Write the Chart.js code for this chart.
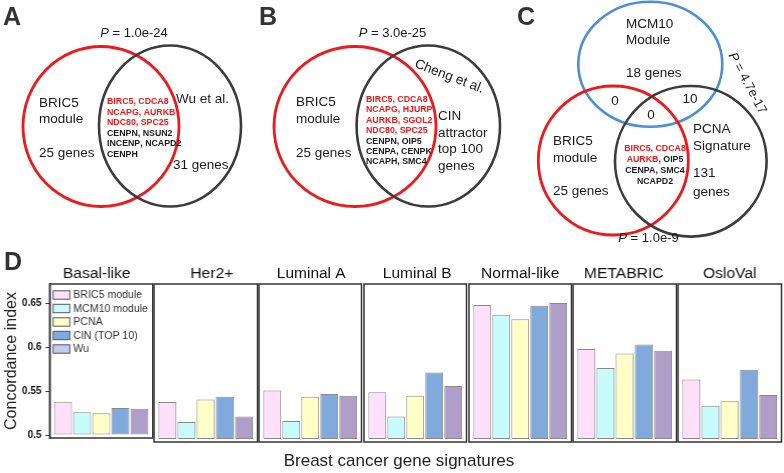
<!DOCTYPE html>
<html>
<head>
<meta charset="utf-8">
<script src="https://cdn.jsdelivr.net/npm/chart.js@4.4.1/dist/chart.umd.min.js"></script>
<style>
  html, body { margin: 0; padding: 0; background: #fff; }
  #page { position: relative; width: 784px; height: 473px; overflow: hidden; }
  .cell { position: absolute; }
</style>
</head>
<body>
<div id="page"></div>
<script>
// ---- data ----
const subtypes = ['Basal-like', 'Her2+', 'Luminal A', 'Luminal B', 'Normal-like', 'METABRIC', 'OsloVal'];
const signatures = ['BRIC5 module', 'MCM10 module', 'PCNA', 'CIN (TOP 10)', 'Wu'];
const bric5 = [0.538, 0.541, 0.554, 0.552, 0.649, 0.600, 0.566];
const mcm10 = [0.526, 0.519, 0.520, 0.525, 0.638, 0.579, 0.537];
const pcna  = [0.525, 0.544, 0.547, 0.548, 0.633, 0.595, 0.542];
const cin   = [0.531, 0.547, 0.550, 0.574, 0.648, 0.605, 0.577];
const wu    = [0.530, 0.525, 0.548, 0.559, 0.651, 0.598, 0.549];
const yTicks = [0.5, 0.55, 0.6, 0.65];
const yTickLabels = ['0.5', '0.55', '0.6', '0.65'];

// venn diagrams
const vennPValues = ['1.0e-24', '3.0e-25', '1.0e-9', '4.7e-17'];
const geneCounts = [25, 31, 100, 18, 131]; // BRIC5, Wu, CIN, MCM10, PCNA
const overlapsC = [0, 10, 0];               // BRIC5&MCM10, MCM10&PCNA, all three
const sharedA = ['BIRC5, CDCA8', 'NCAPG, AURKB', 'NDC80, SPC25', 'CENPN, NSUN2', 'INCENP, NCAPD2', 'CENPH'];
const sharedB = ['BIRC5, CDCA8', 'NCAPG, HJURP', 'AURKB, SGOL2', 'NDC80, SPC25', 'CENPN, OIP5', 'CENPA, CENPK', 'NCAPH, SMC4'];
const sharedC = ['BIRC5, CDCA8', 'AURKB, OIP5', 'CENPA, SMC4', 'NCAPD2'];
const redGenes = ['BIRC5', 'CDCA8', 'NCAPG', 'AURKB', 'NDC80', 'SPC25', 'HJURP', 'SGOL2'];

const barColors = ['#ffe0fa', '#c8fcfc', '#ffffc8', '#80aadb', '#ae9ec8'];
const legendColors = ['#ffe0fa', '#c8fcfc', '#ffffc8', '#80aadb', '#c8c8f4'];
const series = [bric5, mcm10, pcna, cin, wu];

const FAM = '"Liberation Sans", Arial, sans-serif';
const RED = '#f01818';
const INK = '#1a1a1a';
const page = document.getElementById('page');

function fnt(size, bold, italic) {
  return (italic ? 'italic ' : '') + (bold ? 'bold ' : '') + size + 'px ' + FAM;
}
function plain(t, size, color, bold) {
  return [{ t: t, font: fnt(size || 13.5, bold), color: color || INK }];
}
function pLabel(v) {
  return [{ t: 'P', font: fnt(13, false, true), color: INK }, { t: ' = ' + v, font: fnt(13), color: INK }];
}
function geneLine(line) {
  return line.split(', ').map((g, k) => ({
    t: (k ? ', ' : '') + g, font: fnt(8.8, true), color: redGenes.includes(g) ? RED : INK
  }));
}

// ---- overlay: venn circles and free labels ----
const ellipses = [
  { cx: 101, cy: 126.5, rx: 78, ry: 80, color: RED, w: 2.8 },
  { cx: 170, cy: 126, rx: 71, ry: 80.5, color: '#3c3c3c', w: 2.6 },
  { cx: 355, cy: 126.5, rx: 81, ry: 80, color: RED, w: 2.8 },
  { cx: 428.3, cy: 126, rx: 71.7, ry: 80.5, color: '#3c3c3c', w: 2.6 },
  { cx: 650.3, cy: 64.2, rx: 72, ry: 62.5, color: '#4a8fd8', w: 2.6 },
  { cx: 613.3, cy: 160.5, rx: 75, ry: 74.5, color: RED, w: 2.8 },
  { cx: 690.8, cy: 161.3, rx: 75.8, ry: 75.3, color: '#3c3c3c', w: 2.6 }
];

const texts = [];
function add(x, y, segs, align, rot) { texts.push({ x, y, segs, align: align || 'left', rot: rot || 0 }); }

// panel letters
add(3, 25, plain('A', 25, '#333', true));
add(259, 25, plain('B', 25, '#333', true));
add(517, 25, plain('C', 25, '#333', true));
add(4, 270, plain('D', 25, '#333', true));

// A
add(134, 37, pLabel(vennPValues[0]), 'center');
add(39, 107, plain('BRIC5')); add(39, 123, plain('module')); add(39, 157, plain(geneCounts[0] + ' genes'));
add(176, 103, plain('Wu et al.')); add(173, 169, plain(geneCounts[1] + ' genes'));
sharedA.forEach((l, k) => add(107, 104 + k * 10.6, geneLine(l)));

// B
add(392.5, 37, pLabel(vennPValues[1]), 'center');
add(296, 106, plain('BRIC5')); add(296, 123, plain('module')); add(296, 157, plain(geneCounts[0] + ' genes'));
add(414, 67, plain('Cheng et al.'), 'left', 21);
add(438, 120, plain('CIN')); add(438, 137, plain('attractor'));
add(438, 153, plain('top ' + geneCounts[2])); add(438, 170, plain('genes'));
sharedB.forEach((l, k) => add(366, 102 + k * 10.4, geneLine(l)));

// C
add(626, 28, plain('MCM10')); add(626, 44, plain('Module')); add(626, 77, plain(geneCounts[3] + ' genes'));
add(615, 105, plain(String(overlapsC[0])), 'center');
add(690, 103, plain(String(overlapsC[1])), 'center');
add(651, 119, plain(String(overlapsC[2])), 'center');
add(553, 145, plain('BRIC5')); add(553, 162, plain('module')); add(553, 195, plain(geneCounts[0] + ' genes'));
add(693, 133, plain('PCNA')); add(693, 150, plain('Signature'));
add(693, 177, plain(String(geneCounts[4]))); add(693, 196, plain('genes'));
sharedC.forEach((l, k) => add(655, 150.7 + k * 11, geneLine(l), 'center'));
add(744, 85, pLabel(vennPValues[3]), 'center', 62);
add(648.5, 242, pLabel(vennPValues[2]), 'center');

// D x title
add(399, 466, plain('Breast cancer gene signatures', 17, '#222'), 'center');

function drawSegs(ctx, item, xs, ys) {
  ctx.save();
  ctx.translate(xs.getPixelForValue(item.x), ys.getPixelForValue(item.y));
  if (item.rot) ctx.rotate(item.rot * Math.PI / 180);
  ctx.textAlign = 'left';
  ctx.textBaseline = 'alphabetic';
  const widths = item.segs.map(s => { ctx.font = s.font; return ctx.measureText(s.t).width; });
  const total = widths.reduce((a, b) => a + b, 0);
  let cx = item.align === 'center' ? -total / 2 : 0;
  item.segs.forEach((s, k) => {
    ctx.font = s.font; ctx.fillStyle = s.color;
    ctx.fillText(s.t, cx, 0);
    cx += widths[k];
  });
  ctx.restore();
}

const overlayPlugin = {
  id: 'overlay',
  afterDraw(chart) {
    const ctx = chart.ctx, xs = chart.scales.x, ys = chart.scales.y;
    ellipses.forEach(e => {
      const px = xs.getPixelForValue(e.cx), py = ys.getPixelForValue(e.cy);
      const rx = Math.abs(xs.getPixelForValue(e.cx + e.rx) - px);
      const ry = Math.abs(ys.getPixelForValue(e.cy + e.ry) - py);
      ctx.save();
      ctx.beginPath();
      ctx.ellipse(px, py, rx, ry, 0, 0, Math.PI * 2);
      ctx.strokeStyle = e.color;
      ctx.lineWidth = e.w;
      ctx.stroke();
      ctx.restore();
    });
    texts.forEach(t => drawSegs(ctx, t, xs, ys));
  }
};

const ovDiv = document.createElement('div');
ovDiv.className = 'cell';
ovDiv.style.cssText = 'left:0;top:0;width:784px;height:473px;';
page.appendChild(ovDiv);
const ovCanvas = document.createElement('canvas');
ovDiv.appendChild(ovCanvas);
new Chart(ovCanvas.getContext('2d'), {
  type: 'scatter',
  data: { datasets: [] },
  options: {
    responsive: true, maintainAspectRatio: false, animation: false,
    layout: { padding: 0 },
    scales: {
      x: { type: 'linear', min: 0, max: 784, display: false },
      y: { type: 'linear', min: 0, max: 473, reverse: true, display: false }
    },
    plugins: { legend: { display: false }, tooltip: { enabled: false } }
  },
  plugins: [overlayPlugin]
});

// ---- bar panels ----
const boxPlugin = {
  id: 'box',
  afterDatasetsDraw(chart, args, opts) {
    const ctx = chart.ctx, a = chart.chartArea;
    ctx.save();
    ctx.strokeStyle = '#333';
    ctx.lineWidth = 1.5;
    ctx.strokeRect(a.left, a.top, a.right - a.left, a.bottom - a.top);
    ctx.font = fnt(15.5);
    ctx.fillStyle = '#111';
    ctx.textAlign = 'center';
    ctx.textBaseline = 'alphabetic';
    ctx.fillText(opts.title, (a.left + a.right) / 2 + opts.shift, a.top - 6);
    if (opts.legend) {
      ctx.font = fnt(10.5);
      ctx.textAlign = 'left';
      ctx.textBaseline = 'middle';
      signatures.forEach((s, k) => {
        const cy = a.top + 11 + k * 13.5;
        ctx.fillStyle = legendColors[k];
        ctx.fillRect(a.left + 3.5, cy - 4.2, 16.5, 8.4);
        ctx.strokeStyle = '#555';
        ctx.lineWidth = 1;
        ctx.strokeRect(a.left + 3.5, cy - 4.2, 16.5, 8.4);
        ctx.fillStyle = '#333';
        ctx.fillText(s, a.left + 23.5, cy + 0.5);
      });
    }
    ctx.restore();
  }
};

const boxLeft0 = 49.3, pitch = 104.8, boxW = 102.5, boxTop = 284, boxH = 158;
const padTop = 24, padBottom = 6;
const titleShift = [-4.5, 6, 1, 2, 0, -1, 0];

subtypes.forEach((name, i) => {
  const first = i === 0;
  const left = boxLeft0 + i * pitch;
  const cLeft = first ? 0 : left - 2;
  const cWidth = first ? left + boxW + 2 : boxW + 4;
  const div = document.createElement('div');
  div.className = 'cell';
  div.style.cssText = 'left:' + cLeft + 'px;top:' + (boxTop - padTop) + 'px;width:' + cWidth +
    'px;height:' + (boxH + padTop + padBottom) + 'px;';
  page.appendChild(div);
  const canvas = document.createElement('canvas');
  div.appendChild(canvas);

  const yScale = {
    min: 0.4967, max: 0.6722,
    display: first,
    afterBuildTicks: s => { s.ticks = yTicks.map(v => ({ value: v })); },
    border: { display: true, color: '#333', width: 1.5 },
    grid: { drawOnChartArea: false, drawTicks: true, tickLength: 4, color: '#333' },
    ticks: {
      callback: (v, k) => yTickLabels[k],
      font: { family: FAM, size: 10, weight: 'bold' },
      color: '#111',
      padding: 4
    },
    title: {
      display: true, text: 'Concordance index',
      font: { family: FAM, size: 16 }, color: '#222',
      padding: { top: 1.5, bottom: 0 }
    }
  };
  if (first) yScale.afterFit = s => { s.width = left; };

  new Chart(canvas.getContext('2d'), {
    type: 'bar',
    data: {
      datasets: [{
        label: name,
        data: signatures.map((s, j) => ({ x: j + 1, y: series[j][i] })),
        backgroundColor: barColors,
        borderColor: '#8a8a8a',
        borderWidth: 1,
        borderSkipped: false,
        base: 0.5,
        barPercentage: 0.94,
        categoryPercentage: 1
      }]
    },
    options: {
      responsive: true, maintainAspectRatio: false, animation: false,
      layout: { padding: { top: padTop, bottom: padBottom, left: first ? 0 : 2, right: 2 } },
      scales: {
        x: { type: 'linear', min: 0.3, max: 5.7, offset: false, display: false },
        y: yScale
      },
      plugins: {
        legend: { display: false },
        tooltip: { enabled: false },
        box: { title: name, legend: first, shift: titleShift[i] }
      }
    },
    plugins: [boxPlugin]
  });
});
</script>
</body>
</html>
